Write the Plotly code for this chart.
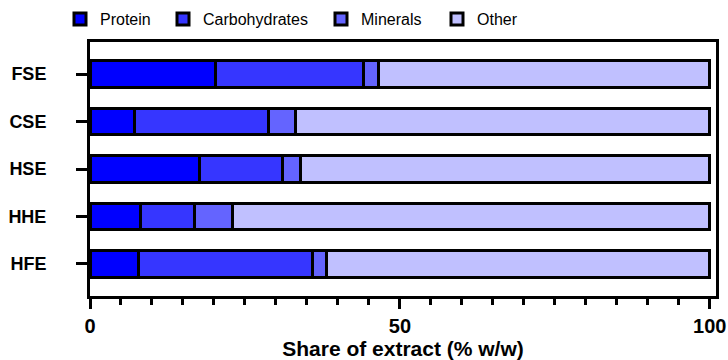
import plotly.graph_objects as go

# Composition of each extract (% w/w)
extracts = ["FSE", "CSE", "HSE", "HHE", "HFE"]
protein = [20.2, 7.1, 17.6, 8.1, 7.9]
carbohydrates = [23.9, 21.7, 13.5, 8.7, 28.0]
minerals = [2.4, 4.4, 2.8, 6.2, 2.3]
other = [53.5, 66.8, 66.1, 77.0, 61.8]

components = ["Protein", "Carbohydrates", "Minerals", "Other"]
colors = ["#0000FF", "#3636FF", "#6464FF", "#C0C0FF"]
series = [protein, carbohydrates, minerals, other]

x_ticks = [0, 50, 100]

legend_font = dict(family="Liberation Sans, Arial, sans-serif", size=16, color="black")
legend_left = [60, 163, 321, 437]
legend_names = ["legend", "legend2", "legend3", "legend4"]

fig = go.Figure()
for name, vals, col, lg in zip(components, series, colors, legend_names):
    fig.add_trace(go.Bar(
        y=extracts, x=vals, name=name, orientation="h",
        marker=dict(color=col, line=dict(color="black", width=3)),
        legend=lg,
    ))

layout_legends = {}
for lg, xl in zip(legend_names, legend_left):
    layout_legends[lg] = dict(
        xref="container", yref="container",
        x=xl / 728, y=1 - 19 / 360, xanchor="left", yanchor="middle",
        orientation="h", font=legend_font, bgcolor="rgba(0,0,0,0)",
        borderwidth=0, itemclick=False,
    )

bold_font = "Liberation Sans, Arial, sans-serif"

fig.update_layout(
    width=728, height=360,
    margin=dict(l=90, r=12, t=42, b=64, autoexpand=False),
    barmode="stack", bargap=0.45,
    plot_bgcolor="white", paper_bgcolor="white",
    showlegend=True,
    **layout_legends,
    xaxis=dict(
        automargin=False,
        range=[0, 101], tickvals=x_ticks, ticktext=[str(v) for v in x_ticks],
        showgrid=False, zeroline=False,
        showline=True, linecolor="black", linewidth=3, mirror=True,
        ticks="outside", ticklen=10, tickwidth=3, tickcolor="black",
        minor=dict(dtick=5, ticks="outside", ticklen=6, tickwidth=3, tickcolor="black", showgrid=False),
        tickfont=dict(family=bold_font, size=20, color="black", weight="bold"),
        title=dict(text="Share of extract (% w/w)", standoff=8,
                   font=dict(family=bold_font, size=21, color="black", weight="bold")),
    ),
    yaxis=dict(
        automargin=False,
        categoryorder="array", categoryarray=extracts,
        range=[4.674, -0.674],
        showgrid=False, zeroline=False,
        showline=True, linecolor="black", linewidth=3, mirror=True,
        ticks="outside", ticklen=11, tickwidth=3, tickcolor="black",
        ticklabelstandoff=26,
        tickfont=dict(family=bold_font, size=18, color="black", weight="bold"),
    ),
)

fig.write_html("out.html")
